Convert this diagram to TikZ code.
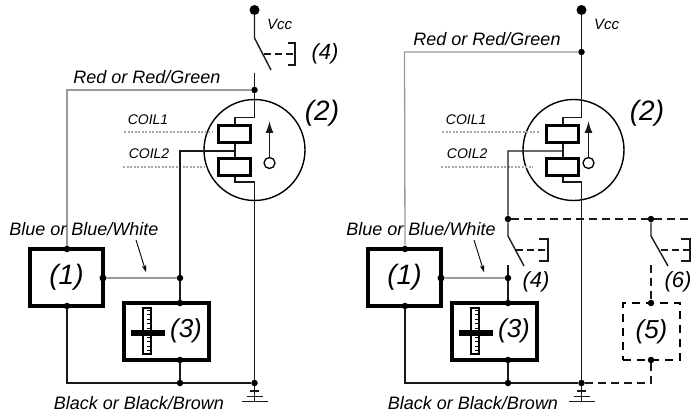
\documentclass[tikz,border=0pt]{standalone}
\usepackage{fontspec}
\setmainfont{Liberation Sans}
\usetikzlibrary{arrows.meta}
\tikzset{
  wire/.style={line width=1.4pt,black!90},
  graywire/.style={line width=1.3pt,black!40},
  dashwire/.style={line width=1.2pt,black!90,dash pattern=on 8pt off 5pt},
  dotline/.style={line width=2pt,black!35,dash pattern=on 2pt off 1.5pt},
  dot/.style={circle,fill=black,inner sep=0pt,minimum size=6.5pt},
  bigdot/.style={circle,fill=black,inner sep=0pt,minimum size=10pt},
  thickbox/.style={draw=black,line width=3.2pt,inner sep=0pt},
  coilbox/.style={draw=black,line width=3pt,inner sep=0pt,minimum width=32pt,minimum height=17pt},
  wirelabel/.style={font=\itshape\fontsize{18}{18}\selectfont,inner sep=0pt},
  coillabel/.style={font=\itshape\fontsize{14}{14}\selectfont,inner sep=0pt},
  numlabel/.style={font=\itshape\fontsize{22}{22}\selectfont,inner sep=0pt},
  midlabel/.style={font=\itshape\fontsize{26}{26}\selectfont,inner sep=0pt},
  biglabel/.style={font=\itshape\fontsize{28}{28}\selectfont,inner sep=0pt}
}
\begin{document}
\begin{tikzpicture}[x=1pt,y=-1pt]
  \useasboundingbox (0,0) rectangle (692,414);

  % Parts that both circuits have
  \foreach \side/\x/\bx/\cx/\vx/\hx in {l/0/0/254.5/254.5/322, r/328/338/573.5/581.5/647} {
    % Hall sensor
    \node[circle,draw=black,line width=1.4pt,inner sep=0pt,minimum size=101pt] (\side sensor) at (\cx,150) {};
    \node[coilbox] (\side coilA) at (234+\x,134.5) {};
    \node[coilbox] (\side coilB) at (234+\x,166.5) {};
    \coordinate (\side tap) at (235+\x,151);
    \coordinate (\side jogA) at (\vx,117.5);
    \coordinate (\side jogB) at (\vx,182);
    \draw[wire] (\side jogA) -- (235+\x,117.5) -- (\side coilA.north -| \side tap);
    \draw[wire] (\side coilA.south -| \side tap) -- (\side coilB.north -| \side tap);
    \draw[wire] (\side coilB.south -| \side tap) -- (235+\x,182) -- (\side jogB);
    \node[draw=black,line width=1.3pt,circle,inner sep=0pt,minimum size=11pt] (\side pole) at (\cx+15,163) {};
    \coordinate (\side poleTip) at (\cx+15,121);
    \draw[wire,-{Latex[length=12pt,width=8pt]}] (\side pole) -- (\side poleTip);
    \coordinate (\side coilStartA) at (124+\x*0.97,132);
    \coordinate (\side coilEndA) at (212+\x,132);
    \coordinate (\side coilStartB) at (123+\x*0.97,166.5);
    \coordinate (\side coilEndB) at (205+\x,166.5);
    \draw[dotline] (\side coilStartA) -- (\side coilEndA);
    \draw[dotline] (\side coilStartB) -- (\side coilEndB);
    \node[coillabel] (\side coilTextA) at (148+\x*0.97,120) {COIL1};
    \node[coillabel] (\side coilTextB) at (149+\x*0.97,154) {COIL2};

    % Block (1)
    \node[thickbox,minimum width=73pt,minimum height=57pt,biglabel] (\side one) at (66.5+\bx,277.5) {(1)};
    \node[dot] (\side oneTop) at (67+\bx,249) {};
    \node[bigdot,minimum size=7pt] (\side oneOut) at (103+\bx,278) {};
    \node[dot] (\side oneBot) at (67+\bx,306) {};

    % Block (3)
    \node[thickbox,minimum width=85pt,minimum height=57pt] (\side gauge) at (166.5+\x,331.5) {};
    \node[midlabel] (\side gaugeText) at (186+\x,331) {(3)};
    \node[draw=black,line width=1.2pt,fill=white,inner sep=0pt,minimum width=8pt,minimum height=46pt] (\side scale) at (147+\x,331) {};
    \foreach \t in {0,1,...,9} {
      \draw[black,line width=0.8pt] (151+\x,310+\t*4.5) -- ++(-4,0);
    }
    \node[fill=black,inner sep=0pt,minimum width=34pt,minimum height=6pt] (\side bar) at (147.5+\x,333) {};
    \node[dot] (\side gaugeTop) at (180+\x,303) {};
    \node[dot] (\side gaugeBot) at (180+\x,360) {};
    \node[dot] (\side gaugeJoin) at (180+\x,278) {};
    \node[dot] (\side botJoin) at (180+\x,383) {};
    \node[dot] (\side gnd) at (\vx,383) {};

    % Wires below the sensor
    \coordinate (\side oneCorner) at (67+\bx,383);
    \draw[graywire] (\side oneOut) -- (\side gaugeJoin);
    \draw[wire] (\side gaugeJoin) -- (\side gaugeTop);
    \draw[wire] (\side gaugeBot) -- (\side botJoin);
    \draw[wire] (\side oneBot) -- (\side oneCorner) -- (\side botJoin) -- (\side gnd);
    \draw[wire] (\side jogB) -- (\side gnd);

    % Ground
    \coordinate (\side earth) at (\vx,401.5);
    \draw[wire] (\side gnd) -- (\side earth);
    \draw[wire] ([xshift=-13pt]\side earth) -- ([xshift=13pt]\side earth);
    \draw[wire] ([shift={(-8pt,5pt)}]\side earth) -- ([shift={(8pt,5pt)}]\side earth);
    \draw[wire,line width=2pt] ([shift={(-4.5pt,10.5pt)}]\side earth) -- ([shift={(4.5pt,10.5pt)}]\side earth);

    % Supply
    \node[bigdot] (\side vcc) at (\vx,10) {};
    \node[coillabel,font=\itshape\fontsize{15}{15}\selectfont] (\side vccText) at (\vx+25,24) {Vcc};
    \node[biglabel] (\side hallText) at (\hx,113) {(2)};

    % Arrow to the blue wire
    \coordinate (\side arrowA) at (136+\bx,240);
    \coordinate (\side arrowB) at (146+\bx,272);
    \draw[black,line width=0.9pt,-{Stealth[length=7pt,width=4.5pt]}] (\side arrowA) -- (\side arrowB);
  }

  % Left circuit
  \coordinate (lsw) at (254.5,38);
  \coordinate (lswEnd) at (271,70);
  \coordinate (lswMid) at (264,54);
  \coordinate (lcontact) at (254.5,73);
  \node[dot] (lred) at (254.5,90) {};
  \coordinate (lredCorner) at (67,90);
  \coordinate (lblueCorner) at (180,151);
  \draw[wire] (lvcc) -- (lsw) -- (lswEnd);
  \draw[wire] (lcontact) -- (lred) -- (ljogA);
  \draw[graywire] (lred) -- (lredCorner) -- (loneTop);
  \draw[wire,line width=2pt] (ltap) -- (lblueCorner) -- (lgaugeJoin);
  \draw[dashwire,dash pattern=on 7pt off 4pt] (lswMid) -- (295,54);
  \draw[wire] (288,43) -- (295,43) -- (295,65) -- (288,65);
  \node[numlabel] (lfour) at (325,54) {(4)};
  \node[wirelabel] (lredText) at (147,77) {Red or Red/Green};
  \node[wirelabel] (lblueText) at (84,229) {Blue or Blue/White};
  \node[wirelabel] (lblackText) at (139,403) {Black or Black/Brown};

  % Right circuit
  \node[dot] (rred) at (581.5,52) {};
  \coordinate (rredCorner) at (404.5,52);
  \coordinate (rblueCorner) at (508,151);
  \node[dot] (rsplit) at (508,219) {};
  \node[dot] (rsplitB) at (651,219) {};
  \coordinate (rdashEnd) at (692,219);
  \coordinate (rswA) at (508,236);
  \coordinate (rswAEnd) at (524,266);
  \coordinate (rcontactA) at (508,265);
  \coordinate (rswB) at (651,236);
  \coordinate (rswBEnd) at (668,266);
  \coordinate (rcontactB) at (651,265);
  \draw[wire] (rvcc) -- (rred) -- (rjogA);
  \draw[graywire] (rred) -- (rredCorner) -- (roneTop);
  \draw[wire] (rtap) -- (rblueCorner) -- (rsplit) -- (rswA) -- (rswAEnd);
  \draw[wire] (rcontactA) -- (rgaugeJoin);
  \draw[dashwire] (rsplit) -- (rsplitB);
  \draw[dashwire] (rsplitB) -- (rdashEnd);
  \draw[wire] (rsplitB) -- (rswB) -- (rswBEnd);
  \draw[dashwire,dash pattern=on 7pt off 4pt] (516,250) -- (548,250);
  \draw[wire] (539,239) -- (548,239) -- (548,261) -- (539,261);
  \draw[dashwire,dash pattern=on 7pt off 4pt] (661,250) -- (690,250);
  \draw[wire] (681,239) -- (690,239) -- (690,261) -- (681,261);

  % Dashed block (5)
  \node[draw=black,line width=1.1pt,dash pattern=on 8pt off 6pt,inner sep=0pt,minimum width=57pt,minimum height=57pt,midlabel] (rfive) at (651.5,331.5) {(5)};
  \node[dot] (rfiveTop) at (651,303) {};
  \node[dot] (rfiveBot) at (651,360) {};
  \coordinate (rfiveCorner) at (651,383);
  \draw[dashwire] (rcontactB) -- (rfiveTop);
  \draw[dashwire] (rfiveBot) -- (rfiveCorner) -- (rgnd);

  \node[numlabel] (rfour) at (536,282) {(4)};
  \node[numlabel] (rsix) at (678,282) {(6)};
  \node[wirelabel] (rredText) at (487,39) {Red or Red/Green};
  \node[wirelabel] (rblueText) at (421,229) {Blue or Blue/White};
  \node[wirelabel] (rblackText) at (473,403) {Black or Black/Brown};
\end{tikzpicture}
\end{document}
